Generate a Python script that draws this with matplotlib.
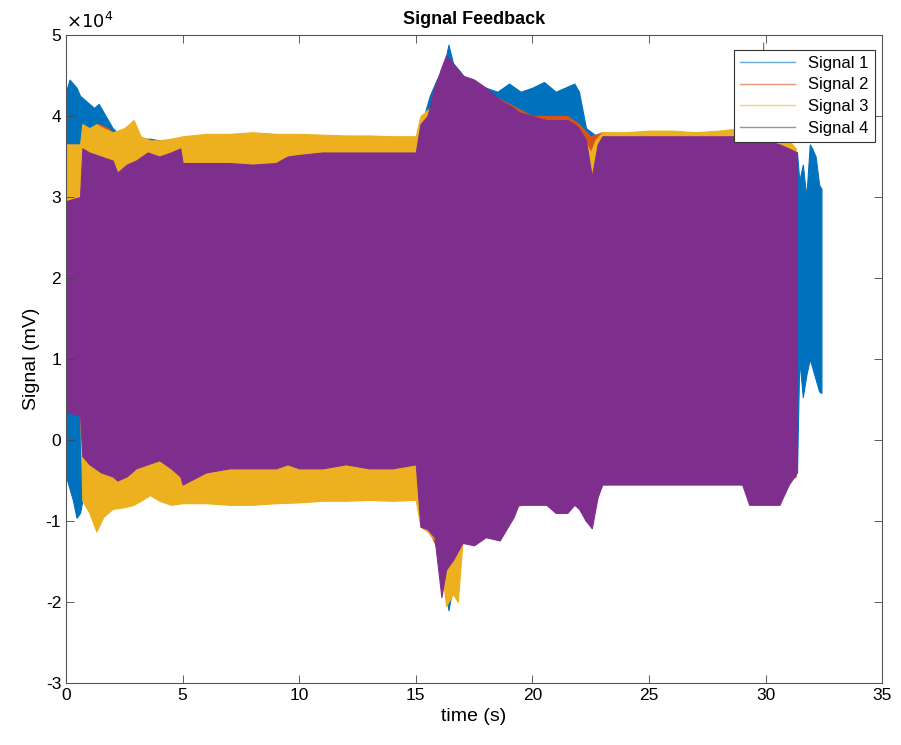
import numpy as np
import matplotlib
matplotlib.use('Agg')
import matplotlib.pyplot as plt
from matplotlib.ticker import FuncFormatter

plt.rcParams['font.family'] = ['Liberation Sans', 'DejaVu Sans']
plt.rcParams['axes.unicode_minus'] = False

# Envelopes, values in units of 1e4 mV
# Signal 1 (blue)
t1 = [0, 0.15, 0.3, 0.45, 0.6, 0.8, 1.0, 1.2, 1.4, 1.6, 1.8, 2.0, 2.5, 3.0, 3.6,
      4.0, 5.0, 7.0, 9.0, 11.0, 13.0, 15.0, 15.3, 15.6, 15.9, 16.2, 16.4, 16.6,
      16.9, 17.3, 17.6, 18.0, 18.5, 19.0, 19.5, 20.0, 20.5, 21.0, 21.4, 21.8,
      22.0, 22.3, 23.0, 25.0, 27.0, 29.0, 31.0, 31.35, 31.45, 31.6, 31.75, 31.9,
      32.0, 32.15, 32.3, 32.4]
hi1 = [4.3, 4.45, 4.4, 4.35, 4.25, 4.2, 4.15, 4.1, 4.15, 4.05, 3.95, 3.85, 3.72,
       3.72, 3.72, 3.7, 3.7, 3.7, 3.7, 3.7, 3.7, 3.7, 3.95, 4.25, 4.45, 4.6, 4.88,
       4.65, 4.55, 4.4, 4.36, 4.35, 4.3, 4.4, 4.3, 4.35, 4.42, 4.3, 4.35, 4.4,
       4.3, 3.85, 3.7, 3.7, 3.7, 3.7, 3.6, 3.55, 3.2, 3.4, 3.0, 3.65, 3.6, 3.5,
       3.15, 3.1]
lo1 = [-0.45, -0.6, -0.75, -0.96, -0.9, -0.6, -0.5, -0.5, -0.5, -0.5, -0.5, -0.5,
       -0.5, -0.5, -0.5, -0.5, -0.5, -0.5, -0.5, -0.5, -0.5, -0.5, -1.0, -1.1,
       -1.3, -1.7, -2.1, -1.8, -1.3, -1.2, -1.2, -1.1, -1.0, -0.85, -0.75, -0.75,
       -0.75, -0.8, -0.8, -0.75, -0.8, -1.0, -0.5, -0.5, -0.5, -0.5, -0.45, -0.4,
       1.0, 0.53, 0.8, 1.0, 0.9, 0.75, 0.6, 0.58]

# Signal 2 (orange)
t2 = [0, 0.7, 1.0, 1.4, 1.8, 2.2, 3.0, 3.6, 4.4, 5.0, 10.0, 15.0, 15.2, 15.7,
      16.0, 16.3, 16.6, 17.0, 18.0, 19.0, 20.0, 21.0, 21.5, 22.0, 22.5, 23.0,
      24.0, 26.0, 28.0, 29.85, 29.9, 29.95, 30.5, 31.0, 31.3]
hi2 = [3.6, 3.6, 3.85, 3.9, 3.85, 3.7, 3.65, 3.65, 3.65, 3.62, 3.65, 3.65, 3.95,
       4.1, 4.35, 4.6, 4.5, 4.45, 4.3, 4.15, 4.0, 4.0, 4.0, 3.9, 3.75, 3.8,
       3.78, 3.78, 3.78, 3.78, 4.91, 3.78, 3.72, 3.62, 3.55]
lo2 = [0.5, 0.4, -0.45, -0.5, -0.5, -0.5, -0.45, -0.4, -0.45, -0.5, -0.45, -0.5,
       -1.0, -1.2, -1.4, -1.8, -1.85, -1.2, -1.1, -0.85, -0.75, -0.8, -0.8, -0.75,
       -1.0, -0.5, -0.5, -0.5, -0.5, -0.55, -0.55, -0.55, -0.6, -0.5, -0.45]

# Signal 3 (yellow)
t3 = [0, 0.6, 0.7, 1.0, 1.3, 1.6, 2.0, 2.5, 2.9, 3.2, 3.6, 4.0, 4.5, 5.0, 6.0,
      7.0, 8.0, 9.0, 10.0, 11.0, 12.0, 13.0, 14.0, 15.0, 15.2, 15.6, 16.0, 16.3,
      16.6, 16.8, 17.0, 17.6, 18.0, 19.0, 20.0, 21.0, 22.0, 22.5, 22.7, 23.0,
      24.0, 25.0, 26.0, 27.0, 28.0, 29.0, 30.0, 31.0, 31.3]
hi3 = [3.65, 3.65, 3.9, 3.85, 3.9, 3.85, 3.8, 3.85, 3.95, 3.75, 3.7, 3.7, 3.72,
       3.75, 3.78, 3.78, 3.8, 3.78, 3.78, 3.77, 3.76, 3.76, 3.75, 3.75, 4.0, 4.1,
       4.3, 4.5, 4.5, 4.45, 4.4, 4.3, 4.2, 4.0, 3.9, 3.9, 3.85, 3.55, 3.7, 3.8,
       3.8, 3.82, 3.82, 3.8, 3.82, 3.85, 3.82, 3.7, 3.6]
lo3 = [0.5, 0.4, -0.75, -0.9, -1.13, -0.95, -0.85, -0.83, -0.8, -0.75, -0.68,
       -0.75, -0.8, -0.78, -0.78, -0.8, -0.8, -0.78, -0.77, -0.75, -0.75, -0.74,
       -0.75, -0.74, -1.07, -1.15, -1.3, -2.05, -1.9, -2.0, -1.27, -1.27, -1.1,
       -0.9, -0.7, -0.7, -0.75, -0.9, -0.6, -0.55, -0.5, -0.5, -0.5, -0.5, -0.5,
       -0.55, -0.6, -0.5, -0.4]

# Signal 4 (purple)
t4 = [0, 0.6, 0.7, 1.0, 1.5, 2.0, 2.2, 2.6, 3.0, 3.5, 4.0, 4.5, 4.9, 5.0, 6.0,
      7.0, 8.0, 9.0, 9.5, 10.0, 11.0, 12.0, 13.0, 14.0, 15.0, 15.2, 15.5, 15.8,
      16.1, 16.3, 16.6, 17.0, 17.5, 18.0, 18.6, 19.2, 19.4, 20.0, 20.6, 21.0,
      21.5, 21.8, 22.0, 22.3, 22.55, 22.8, 23.0, 24.0, 25.0, 26.0, 27.0, 28.0,
      29.0, 29.3, 30.0, 30.6, 31.0, 31.35]
hi4 = [2.95, 3.0, 3.6, 3.55, 3.5, 3.45, 3.3, 3.4, 3.45, 3.55, 3.5, 3.55, 3.6,
       3.42, 3.42, 3.42, 3.4, 3.42, 3.5, 3.52, 3.55, 3.55, 3.55, 3.55, 3.55, 3.9,
       4.0, 4.35, 4.6, 4.75, 4.65, 4.5, 4.45, 4.35, 4.2, 4.1, 4.05, 4.0, 3.95,
       3.95, 3.95, 3.9, 3.85, 3.7, 3.25, 3.65, 3.75, 3.75, 3.75, 3.75, 3.75, 3.75,
       3.75, 3.72, 3.7, 3.65, 3.6, 3.55]
lo4 = [0.35, 0.3, -0.2, -0.3, -0.4, -0.45, -0.5, -0.45, -0.35, -0.3, -0.25, -0.35,
       -0.45, -0.55, -0.4, -0.35, -0.35, -0.35, -0.3, -0.35, -0.35, -0.3, -0.35,
       -0.35, -0.3, -1.07, -1.1, -1.2, -1.94, -1.6, -1.48, -1.27, -1.3, -1.2,
       -1.24, -0.95, -0.8, -0.8, -0.8, -0.9, -0.9, -0.8, -0.85, -1.0, -1.09, -0.7,
       -0.55, -0.55, -0.55, -0.55, -0.55, -0.55, -0.55, -0.8, -0.8, -0.8, -0.55,
       -0.4]

labels = ['Signal 1', 'Signal 2', 'Signal 3', 'Signal 4']
colors = ['#0072BD', '#D95319', '#EDB120', '#7E2F8E']

fig = plt.figure(figsize=(9.01, 7.45), dpi=100)
ax = fig.add_axes([0.0733, 0.0832, 0.9057, 0.8698])

signals = [(t1, hi1, lo1), (t2, hi2, lo2), (t3, hi3, lo3), (t4, hi4, lo4)]
handles = []
for (t, hi, lo), c, lab in zip(signals, colors, labels):
    t = np.array(t)
    hi = np.array(hi) * 1e4
    lo = np.array(lo) * 1e4
    ax.fill_between(t, lo, hi, color=c, linewidth=0.8, edgecolor=c)
    # legend entry drawn as a line like the original
    h, = ax.plot([], [], color=c, linewidth=1.0, alpha=0.6, label=lab)
    handles.append(h)

ax.set_xlim(0, 35)
ax.set_ylim(-3e4, 5e4)
ax.set_xticks(np.arange(0, 36, 5))
ax.set_yticks(np.arange(-3e4, 5.1e4, 1e4))

# MATLAB style exponent label
ax.yaxis.set_major_formatter(FuncFormatter(lambda v, _: '%g' % (v / 1e4)))
ax.text(0, 1.004, r'$\times 10^{4}$', transform=ax.transAxes,
        fontsize=13, ha='left', va='bottom')

ax.tick_params(direction='in', top=True, right=True, length=6,
               width=0.6, color='#444444', labelsize=12.5)
for s in ax.spines.values():
    s.set_color('#555555')
    s.set_linewidth(0.8)

ax.set_title('Signal Feedback', fontsize=13, fontweight='bold', pad=8)
ax.set_xlabel('time (s)', fontsize=14)
ax.set_ylabel('Signal (mV)', fontsize=14)

leg = ax.legend(handles=handles, loc='upper right',
                bbox_to_anchor=(0.991, 0.977), borderaxespad=0,
                fancybox=False, fontsize=12, handlelength=3.3,
                labelspacing=0.4, borderpad=0.35, framealpha=1)
leg.get_frame().set_edgecolor('#333333')
leg.get_frame().set_linewidth(0.8)

fig.savefig('out.png', dpi=100)
